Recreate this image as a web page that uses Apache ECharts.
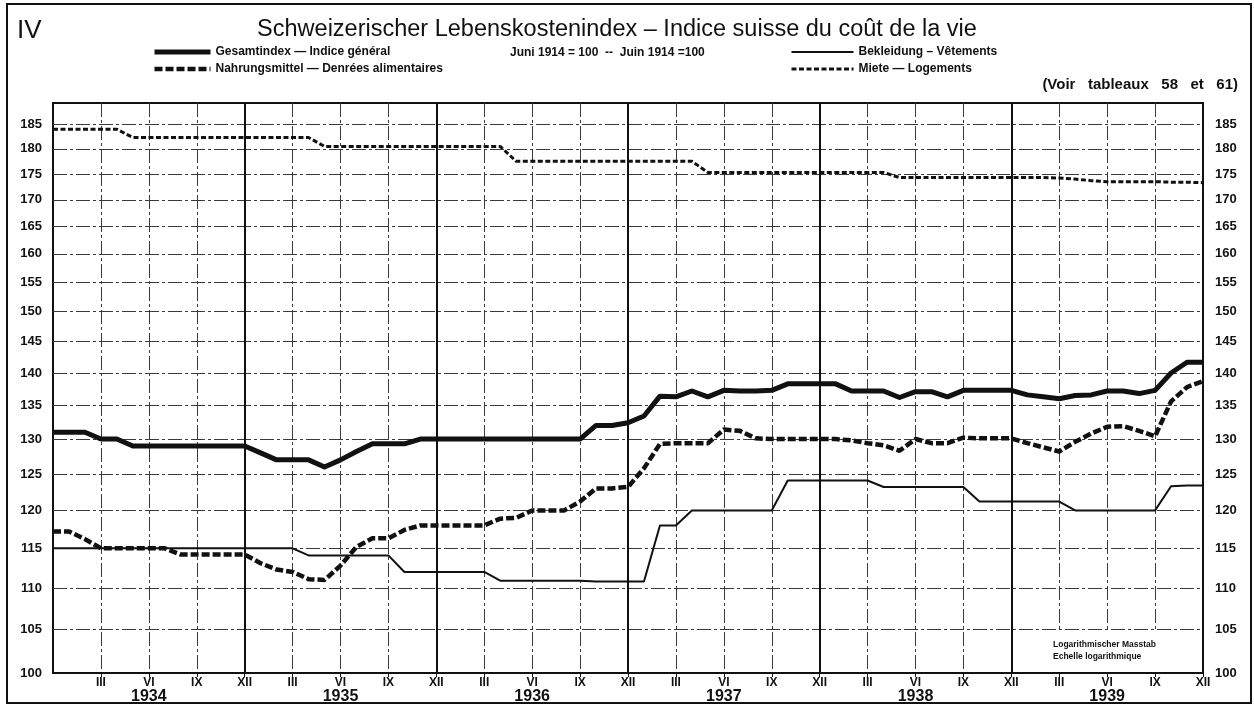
<!DOCTYPE html>
<html>
<head>
<meta charset="utf-8">
<style>
  html, body { margin: 0; padding: 0; background: #fff; }
  #chart { width: 1254px; height: 704px; }
</style>
<script src="https://cdn.jsdelivr.net/npm/echarts@6.0.0/dist/echarts.min.js"></script>
</head>
<body>
<div id="chart"></div>
<script>
// ---- data (monthly, XII 1933 … XII 1939) ----
const monthRoman = ['I','II','III','IV','V','VI','VII','VIII','IX','X','XI','XII'];
const years = [1934, 1935, 1936, 1937, 1938, 1939];
const startLabel = 'XII 1933';
const yTicks = [100,105,110,115,120,125,130,135,140,145,150,155,160,165,170,175,180,185];

const seriesNames = [
  'Gesamtindex — Indice général',
  'Nahrungsmittel — Denrées alimentaires',
  'Bekleidung – Vêtements',
  'Miete — Logements'
];

const gesamt = [
  131,131,131,130,130,129,129,129,129,129,129,129,129,
  128,127,127,127,126,127,128.2,129.3,129.3,129.3,130,130,
  130,130,130,130,130,130,130,130,130,132,132,132.4,
  133.4,136.4,136.3,137.2,136.3,137.3,137.2,137.2,137.3,138.3,138.3,138.3,
  138.3,137.2,137.2,137.2,136.2,137.1,137.1,136.3,137.3,137.3,137.3,137.3,
  136.6,136.3,136.0,136.5,136.6,137.2,137.2,136.8,137.3,140,141.7,141.7
];
const nahrung = [
  117.2,117.2,116.2,115,115,115,115,115,114.2,114.2,114.2,114.2,114.2,
  113.1,112.3,112,111.1,111,112.8,115.2,116.3,116.3,117.4,118,118,
  118,118,118,118.9,119,120,120,120,121.2,123,123,123.2,
  125.8,129.3,129.4,129.4,129.4,131.4,131.2,130.1,130,130,130,130,
  130,129.8,129.4,129.1,128.3,130,129.4,129.4,130.2,130.1,130.1,130.1,
  129.4,128.8,128.2,129.6,130.8,131.8,131.9,131.2,130.4,135.6,137.8,138.7
];
const bekleidung = [
  115,115,115,115,115,115,115,115,115,115,115,115,115,
  115,115,115,114.1,114.1,114.1,114.1,114.1,114.1,112,112,112,
  112,112,112,110.9,110.9,110.9,110.9,110.9,110.9,110.8,110.8,110.8,
  110.8,118,118,120,120,120,120,120,120,124.1,124.1,124.1,
  124.1,124.1,124.1,123.2,123.2,123.2,123.2,123.2,123.2,121.2,121.2,121.2,
  121.2,121.2,121.2,120,120,120,120,120,120,123.3,123.4,123.4
];
const miete = [
  184,184,184,184,184,
  182.3,182.3,182.3,182.3,182.3,182.3,182.3,182.3,182.3,182.3,182.3,182.3,
  180.5,180.5,180.5,180.5,180.5,180.5,180.5,180.5,180.5,180.5,180.5,180.5,
  177.5,177.5,177.5,177.5,177.5,177.5,177.5,177.5,177.5,177.5,177.5,177.5,
  175.3,175.3,175.3,175.3,175.3,175.3,175.3,175.3,175.3,175.3,175.3,175.3,
  174.3,174.3,174.3,174.3,174.3,174.3,174.3,174.3,174.3,174.3,
  174.2,174.0,173.7,173.5,173.5,173.5,173.5,173.4,173.4,173.3
];

// ---- categories built from the arrays above ----
const categories = [startLabel];
years.forEach(y => monthRoman.forEach(m => categories.push(m + ' ' + y)));

const FONT = 'Liberation Sans';
const INK = '#111';
const isQuarter = (i) => i % 3 === 0 && i > 0 && i < categories.length - 1;
const isYear = (i) => i % 12 === 0 && i > 0 && i < categories.length - 1;
const gridDash = { color: '#3a3a3a', width: 1, type: [14, 3, 3, 3] };

const chart = echarts.init(document.getElementById('chart'), null, { renderer: 'canvas' });

const legendCommon = {
  orient: 'vertical', top: 46, padding: 0, itemHeight: 14, itemGap: 5, selectedMode: false,
  itemStyle: { opacity: 0, borderWidth: 0 },
  lineStyle: { width: 'inherit', type: 'inherit' },
  textStyle: { fontFamily: FONT, fontSize: 12, fontWeight: 'bold', color: INK }
};

const option = {
  animation: false,
  backgroundColor: '#fff',
  textStyle: { fontFamily: FONT, color: INK },
  grid: { left: 53, right: 51, top: 103, bottom: 31, outerBoundsMode: 'none', containLabel: false,
          show: true, borderColor: INK, borderWidth: 2, backgroundColor: 'transparent' },
  legend: [
    Object.assign({ data: [seriesNames[0], seriesNames[1]], left: 152, itemWidth: 56 }, legendCommon),
    Object.assign({ data: [seriesNames[2], seriesNames[3]], left: 790, itemWidth: 62 }, legendCommon)
  ],
  xAxis: [
    {
      type: 'category', data: categories, boundaryGap: false, position: 'bottom',
      axisLine: { show: true, lineStyle: { color: INK, width: 2 } },
      axisTick: { show: true, interval: (i) => i % 3 === 0 && i > 0, length: 4, lineStyle: { color: INK, width: 1 } },
      axisLabel: {
        interval: (i) => i % 3 === 0 && i > 0, margin: 4,
        formatter: (value) => {
          const parts = value.split(' ');
          if (parts[0] === 'VI') return '{m|VI}\n{y|' + parts[1] + '}';
          return '{m|' + parts[0] + '}';
        },
        rich: {
          m: { fontFamily: FONT, fontSize: 12, fontWeight: 'bold', lineHeight: 12, color: INK },
          y: { fontFamily: FONT, fontSize: 16, fontWeight: 'bold', lineHeight: 16, color: INK }
        }
      },
      splitLine: { show: true, interval: isQuarter, lineStyle: gridDash }
    },
    {
      type: 'category', data: categories, boundaryGap: false, position: 'top',
      axisLine: { show: false }, axisTick: { show: false }, axisLabel: { show: false },
      splitLine: { show: true, interval: isYear, lineStyle: { color: INK, width: 2 } }
    }
  ],
  yAxis: [
    {
      type: 'log', logBase: 10, min: 100, max: 189.5, position: 'left',
      axisLine: { show: false },
      axisTick: { show: false, customValues: yTicks },
      axisLabel: { customValues: yTicks, margin: 11, fontFamily: FONT, fontSize: 13, fontWeight: 'bold', color: INK },
      splitLine: { show: true, lineStyle: gridDash }
    },
    {
      type: 'log', logBase: 10, min: 100, max: 189.5, position: 'right',
      axisLine: { show: false },
      axisTick: { show: false, customValues: yTicks },
      axisLabel: { customValues: yTicks, margin: 12, fontFamily: FONT, fontSize: 13, fontWeight: 'bold', color: INK },
      splitLine: { show: false }
    }
  ],
  series: [
    { name: seriesNames[3], type: 'line', data: miete, symbol: 'none', z: 3,
      lineStyle: { color: INK, width: 3, type: [5, 2.5] }, itemStyle: { color: INK } },
    { name: seriesNames[2], type: 'line', data: bekleidung, symbol: 'none', z: 4,
      lineStyle: { color: INK, width: 2 }, itemStyle: { color: INK } },
    { name: seriesNames[1], type: 'line', data: nahrung, symbol: 'none', z: 5,
      lineStyle: { color: INK, width: 4.5, type: [8, 3] }, itemStyle: { color: INK } },
    { name: seriesNames[0], type: 'line', data: gesamt, symbol: 'none', z: 6,
      lineStyle: { color: INK, width: 5, join: 'round' }, itemStyle: { color: INK } }
  ],
  graphic: [
    { type: 'rect', silent: true, shape: { x: 7, y: 4, width: 1244, height: 699 },
      style: { fill: 'none', stroke: INK, lineWidth: 2 } },
    { type: 'text', x: 17, y: 31, style: { text: 'IV', fontFamily: FONT, fontSize: 26, fill: INK, verticalAlign: 'middle' } },
    { type: 'text', x: 617, y: 30, style: { text: 'Schweizerischer Lebenskostenindex – Indice suisse du coût de la vie',
      fontFamily: FONT, fontSize: 23.5, fill: INK, align: 'center', verticalAlign: 'middle' } },
    { type: 'text', x: 510, y: 53, style: { text: 'Juni 1914 = 100  --  Juin 1914 =100',
      fontFamily: FONT, fontSize: 12, fontWeight: 'bold', fill: INK, verticalAlign: 'middle' } },
    { type: 'text', x: 1238, y: 85, style: { text: '(Voir   tableaux   58   et   61)',
      fontFamily: FONT, fontSize: 15, fontWeight: 'bold', fill: INK, align: 'right', verticalAlign: 'middle' } },
    { type: 'rect', z: 100, silent: true, shape: { x: 1014, y: 632, width: 187, height: 39 }, style: { fill: '#fff' } },
    { type: 'text', z: 101, x: 1053, y: 645, style: { text: 'Logarithmischer Masstab',
      fontFamily: FONT, fontSize: 8.5, fontWeight: 'bold', fill: INK, verticalAlign: 'middle' } },
    { type: 'text', z: 101, x: 1053, y: 657, style: { text: 'Echelle logarithmique',
      fontFamily: FONT, fontSize: 8.5, fontWeight: 'bold', fill: INK, verticalAlign: 'middle' } }
  ]
};

chart.setOption(option);
</script>
</body>
</html>
